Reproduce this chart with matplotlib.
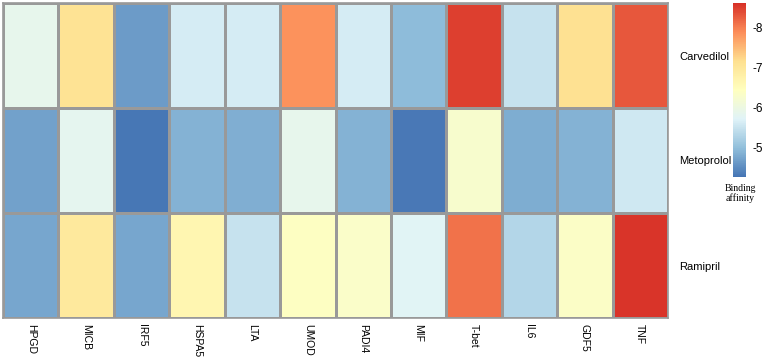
import numpy as np
import matplotlib
matplotlib.use("Agg")
import matplotlib.pyplot as plt
from matplotlib.colors import LinearSegmentedColormap, Normalize

# binding affinity (kcal/mol)
genes = ["HPGD", "MICB", "IRF5", "HSPA5", "LTA", "UMOD", "PADI4", "MIF",
         "T-bet", "IL6", "GDF5", "TNF"]
drugs = ["Carvedilol", "Metoprolol", "Ramipril"]
carvedilol = [-5.88, -7.10, -4.66, -5.62, -5.62, -7.84, -5.62, -4.97, -8.49, -5.49, -7.14, -8.30]
metoprolol = [-4.70, -5.84, -4.30, -4.88, -4.84, -5.88, -4.88, -4.31, -6.27, -4.82, -4.88, -5.57]
ramipril = [-4.75, -6.97, -4.75, -6.66, -5.49, -6.40, -6.31, -5.75, -8.10, -5.31, -6.36, -8.58]
cbar_ticks = [-8, -7, -6, -5]

data = np.array([carvedilol, metoprolol, ramipril])

# pheatmap default palette (RdYlBu, 7 colours)
cmap = LinearSegmentedColormap.from_list(
    "rdylbu7", ["#D73027", "#FC8D59", "#FEE090", "#FFFFBF", "#E0F3F8", "#91BFDB", "#4575B4"])
norm = Normalize(vmin=-8.62, vmax=-4.27)

plt.rcParams["font.family"] = ["Liberation Sans", "DejaVu Sans"]
fig = plt.figure(figsize=(7.65, 3.6), dpi=100)

W, H = 765, 360
ax = fig.add_axes([3 / W, 1 - 318 / H, 665 / W, 315 / H])
ax.pcolormesh(data, cmap=cmap, norm=norm, edgecolors="#999999", linewidth=1.0)
ax.set_xlim(0, len(genes))
ax.set_ylim(len(drugs), 0)
for s in ax.spines.values():
    s.set_edgecolor("#999999")
    s.set_linewidth(1.2)
ax.yaxis.tick_right()
ax.set_yticks(np.arange(len(drugs)) + 0.5)
ax.set_yticklabels(drugs, fontsize=8)
ax.set_xticks(np.arange(len(genes)) + 0.5)
ax.set_xticklabels(genes, fontsize=7.5, rotation=270, va="top", ha="center")
ax.tick_params(axis="y", length=0, pad=8)
ax.tick_params(axis="x", length=0, pad=4)

cax = fig.add_axes([733 / W, 1 - 177 / H, 13 / W, 174 / H])
cb = fig.colorbar(plt.cm.ScalarMappable(norm=norm, cmap=cmap), cax=cax)
cb.outline.set_visible(False)
cax.set_ylim(-4.27, -8.62)
cb.set_ticks(cbar_ticks)
cb.set_ticklabels([str(t) for t in cbar_ticks])
cax.tick_params(length=0, labelsize=8.5, pad=5)
fig.text(740 / W, 1 - 184 / H, "Binding\naffinity", fontsize=7, ha="center", va="top",
         family="Liberation Serif", linespacing=1.1)

fig.savefig("out.png", dpi=100)
